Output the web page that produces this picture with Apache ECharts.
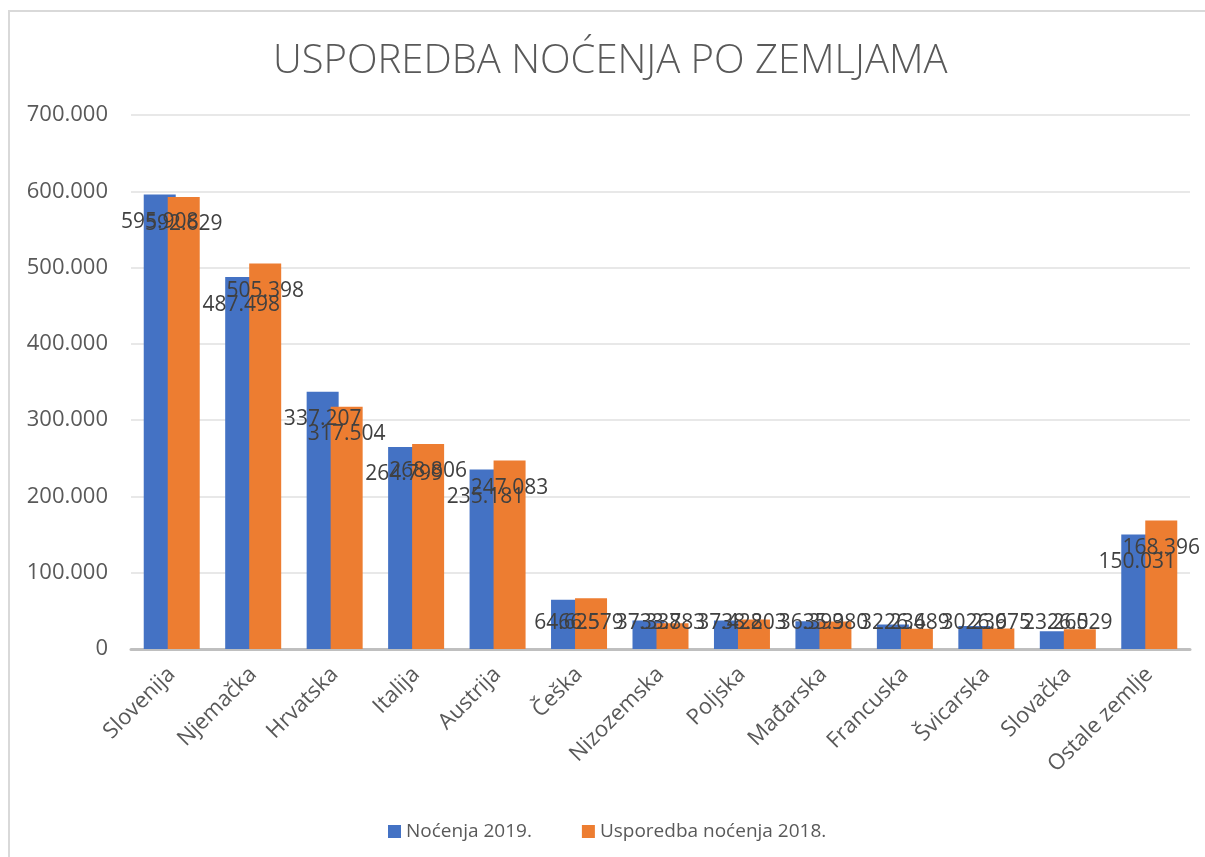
<!DOCTYPE html>
<html>
<head>
<meta charset="utf-8">
<script src="https://cdn.jsdelivr.net/npm/echarts@6/dist/echarts.min.js"></script>
<style>
html,body{margin:0;padding:0;background:#fff;}
#chart{width:1205px;height:857px;}
</style>
</head>
<body>
<div id="chart"></div>
<script>
const categories = ["Slovenija","Njemačka","Hrvatska","Italija","Austrija","Češka","Nizozemska","Poljska","Mađarska","Francuska","Švicarska","Slovačka","Ostale zemlje"];
const nocenja2019 = [595908, 487498, 337207, 264799, 235181, 64625, 37338, 37422, 36393, 32236, 30236, 23265, 150031];
const nocenja2018 = [592629, 505398, 317504, 268806, 247083, 66579, 33783, 38803, 35980, 26489, 26975, 26029, 168396];
const seriesNames = ["Noćenja 2019.", "Usporedba noćenja 2018."];
const titleText = "USPOREDBA NOĆENJA PO ZEMLJAMA";

function fmt(v){
  return String(Math.round(v)).replace(/\B(?=(\d{3})+(?!\d))/g, '.');
}
const FONT = '"Open Sans", "Noto Sans", sans-serif';
const chart = echarts.init(document.getElementById('chart'), null, {renderer:'canvas'});
const labelBase = {
  show: true,
  color: '#404040',
  fontSize: 21,
  fontFamily: FONT,
  formatter: p => fmt(p.value)
};
// small bars: label kept above the axis (like Excel's inside-end clamping)
const SMALL = 72000;
function items(arr){
  return arr.map(v => v < SMALL
    ? {value: v, label: {position: 'insideBottom', distance: 15}}
    : {value: v, label: {position: 'insideTop', distance: 17}});
}
chart.setOption({
  animation: false,
  backgroundColor: '#fff',
  title: {
    text: titleText,
    left: 268,
    top: 37,
    textStyle: {fontFamily: FONT, fontSize: 40, fontWeight: 300, color: '#595959'}
  },
  graphic: [{
    type: 'polyline',
    shape: {points: [[9, 870], [9, 11], [1215, 11]]},
    style: {stroke: '#d9d9d9', lineWidth: 2, fill: null},
    silent: true
  }],
  legend: {
    top: 817,
    left: 383,
    itemWidth: 13,
    itemHeight: 13,
    itemGap: 50,
    icon: 'rect',
    textStyle: {fontFamily: FONT, fontSize: 19, color: '#595959'},
    data: seriesNames
  },
  grid: {left: 131, right: 15, top: 115, bottom: 208, containLabel: false},
  xAxis: {
    type: 'category',
    data: categories,
    axisLine: {lineStyle: {color: '#bfbfbf', width: 3}},
    axisTick: {show: false},
    axisLabel: {rotate: 45, fontSize: 22, fontFamily: FONT, color: '#595959', margin: 22, interval: 0}
  },
  yAxis: {
    type: 'value',
    min: 0,
    max: 700000,
    interval: 100000,
    axisLine: {show: false},
    axisTick: {show: false},
    splitLine: {lineStyle: {color: '#e8e8e8', width: 2}},
    axisLabel: {fontSize: 22, fontFamily: FONT, color: '#595959', margin: 23, formatter: v => fmt(v)}
  },
  series: [
    {name: seriesNames[0], type: 'bar', data: items(nocenja2019), barWidth: 32, barGap: '-25%',
     itemStyle: {color: '#4472C4'}, label: labelBase},
    {name: seriesNames[1], type: 'bar', data: items(nocenja2018), barWidth: 32, barGap: '-25%',
     itemStyle: {color: '#ED7D31'}, label: labelBase}
  ]
});
</script>
</body>
</html>
